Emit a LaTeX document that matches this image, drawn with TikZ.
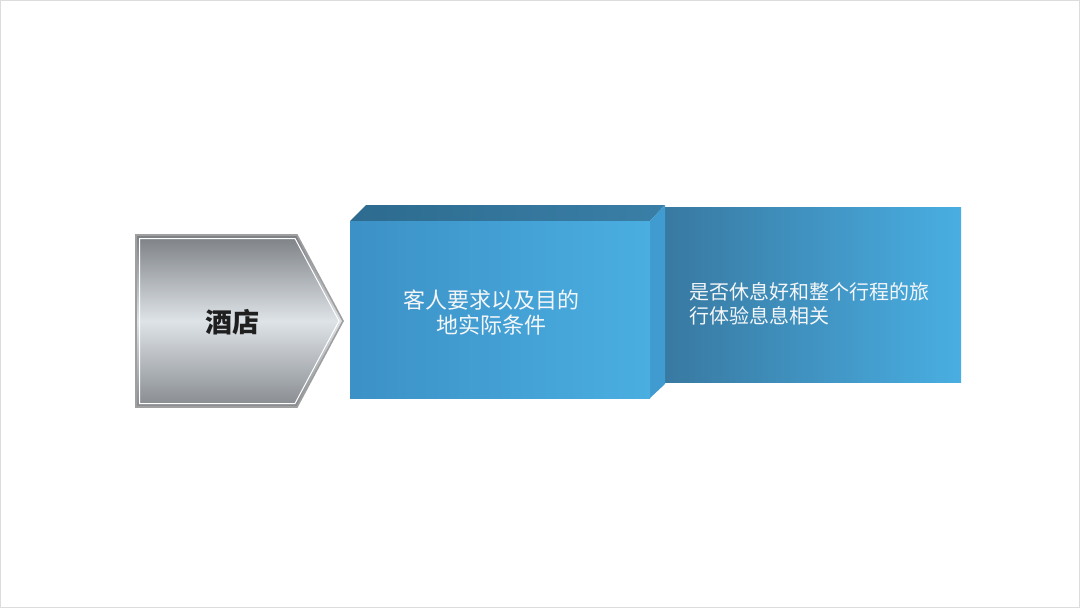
\documentclass[tikz,border=0pt]{standalone}
\usepackage{fontspec}
\newfontfamily\cjk{Noto Sans CJK SC}
\definecolor{frontL}{HTML}{3C91C6}
\definecolor{frontR}{HTML}{4AAEE1}
\definecolor{topL}{HTML}{2D6B8F}
\definecolor{topR}{HTML}{3A7FA7}
\definecolor{sideC}{HTML}{3F9BD0}
\definecolor{backL}{HTML}{3879A1}
\definecolor{backR}{HTML}{49AEE2}
\definecolor{greyD}{HTML}{7C8085}
\definecolor{greyM}{HTML}{DEE3E7}
\definecolor{greyB}{HTML}{878B8F}
\definecolor{frameC}{HTML}{DCDCDC}
\definecolor{textW}{HTML}{F4F6F8}
\tikzset{
  whitetext/.style={text=textW, font=\cjk\fontsize{22}{25}\selectfont, inner sep=0pt},
  backtext/.style={text=textW, font=\cjk\fontsize{20}{24}\selectfont, inner sep=0pt, align=left, anchor=west},
}
\begin{document}
\begin{tikzpicture}[x=1pt,y=-1pt]
\useasboundingbox (0,0) rectangle (1080,608);
\fill[white] (0,0) rectangle (1080,608);
\draw[frameC, line width=1.2pt] (0.6,0.6) rectangle (1079.4,607.4);
% back panel
\shade[left color=backL, right color=backR] (664,207) rectangle (961,382);
% front box top face
\shade[left color=topL, right color=topR] (350,221) -- (366,205) -- (665,205) -- (650,221) -- cycle;
% side face
\fill[sideC] (650,221) -- (665,205) -- (665,384) -- (650,398) -- cycle;
% front face
\shade[left color=frontL, right color=frontR] (350,221) rectangle (650,398);
% pentagon
\shade[top color=greyD, bottom color=greyB, middle color=greyM]
  (136,235) -- (297,235) -- (343,321) -- (297,407) -- (136,407) -- cycle;
\draw[gray!75, line width=1.6pt, line join=miter]
  (136,235) -- (297,235) -- (343,321) -- (297,407) -- (136,407) -- cycle;
\draw[white, line width=1pt, line join=miter]
  (139.5,238.5) -- (295,238.5) -- (339,321) -- (295,403.5) -- (139.5,403.5) -- cycle;
\node[font=\cjk\bfseries\fontsize{27}{30}\selectfont, text=black!88, inner sep=0pt] (hotel) at (232,322) {酒店};
\node[whitetext, align=center] (req) at (491,313) {客人要求以及目的\\地实际条件};
\node[backtext] (rest) at (689,304) {是否休息好和整个行程的旅\\行体验息息相关};
\end{tikzpicture}
\end{document}
